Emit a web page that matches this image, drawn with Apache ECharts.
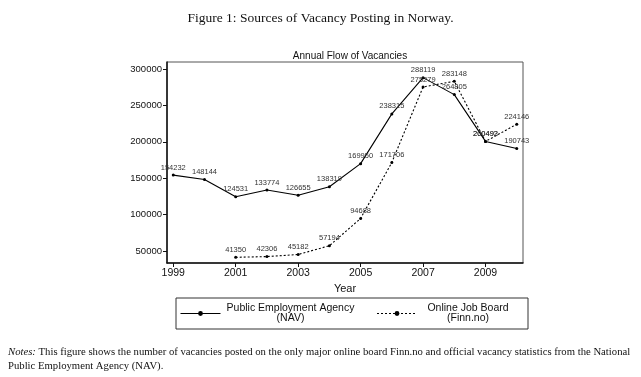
<!DOCTYPE html>
<html>
<head>
<meta charset="utf-8">
<script src="https://cdn.jsdelivr.net/npm/echarts@6/dist/echarts.min.js"></script>
<style>
html, body { margin: 0; padding: 0; background: #fff; }
#chart { width: 641px; height: 377px; }
</style>
</head>
<body>
<div id="chart"></div>
<script>
// data
var navYears = [1999, 2000, 2001, 2002, 2003, 2004, 2005, 2006, 2007, 2008, 2009, 2010];
var navValues = [154232, 148144, 124531, 133774, 126655, 138319, 169950, 238315, 288119, 264805, 200493, 190743];
var finnYears = [2001, 2002, 2003, 2004, 2005, 2006, 2007, 2008, 2009, 2010];
var finnValues = [41350, 42306, 45182, 57194, 94688, 171706, 275279, 283148, 200492, 224146];
var xTicks = [1999, 2001, 2003, 2005, 2007, 2009];
var yTicks = [50000, 100000, 150000, 200000, 250000, 300000];

function pairs(xs, ys) {
	var out = [];
	for (var i = 0; i < xs.length; i++) out.push([xs[i], ys[i]]);
	return out;
}

var chart = echarts.init(document.getElementById('chart'));

var labelStyle = {
	show : true,
	position : 'top',
	distance : 2,
	fontSize : 7.5,
	fontFamily : 'Liberation Sans',
	color : '#333',
	formatter : function(p) { return p.value[1]; }
};

var navName = 'Public Employment Agency\n(NAV)';
var finnName = 'Online Job Board\n(Finn.no)';

chart.setOption({
	backgroundColor : '#fff',
	animation : false,
	textStyle : { fontFamily : 'Liberation Sans' },
	title : [{
		text : 'Figure 1: Sources of Vacancy Posting in Norway.',
		left : 'center',
		top : 6,
		textStyle : { fontFamily : 'Liberation Serif', fontSize : 13.5, fontWeight : 'normal', color : '#111' }
	}, {
		text : 'Annual Flow of Vacancies',
		left : 345,
		textAlign : 'center',
		top : 46,
		textStyle : { fontFamily : 'Liberation Sans', fontSize : 10, fontWeight : 'normal', color : '#111' }
	}],
	grid : {
		left : 167,
		right : 118,
		top : 62,
		bottom : 114,
		show : true,
		borderColor : '#555',
		borderWidth : 1
	},
	legend : {
		left : 176,
		top : 298,
		width : 500,
		padding : [5, 14, 5, 4],
		borderColor : '#333',
		borderWidth : 1,
		itemGap : 21,
		itemWidth : 40,
		itemHeight : 6,
		lineStyle : { width : 1 },
		formatter : function(name) {
			var parts = name.split('\n');
			var k = name == navName ? 'a' : 'b';
			return '{' + k + '|' + parts[0] + '}\n{' + k + '|' + parts[1] + '}';
		},
		textStyle : {
			fontSize : 10.5,
			color : '#111',
			rich : {
				a : { width : 130, align : 'center', fontSize : 10.5, lineHeight : 10 },
				b : { width : 92, align : 'center', fontSize : 10.5, lineHeight : 10 }
			}
		},
		data : [navName, finnName]
	},
	xAxis : {
		type : 'value',
		min : 1998.8,
		max : 2010.2,
		name : 'Year',
		nameLocation : 'middle',
		nameGap : 20,
		nameTextStyle : { fontSize : 11, color : '#111' },
		splitLine : { show : false },
		axisLine : { lineStyle : { color : '#111', width : 1.5 } },
		axisTick : { customValues : xTicks, length : 4, lineStyle : { color : '#111' } },
		axisLabel : { customValues : xTicks, fontSize : 10.5, color : '#111', margin : 5, formatter : function(v) { return String(v); } }
	},
	yAxis : {
		type : 'value',
		min : 33500,
		max : 309600,
		splitLine : { show : false },
		axisLine : { show : true, lineStyle : { color : '#111', width : 1.5 } },
		axisTick : { show : true, customValues : yTicks, length : 4, lineStyle : { color : '#111' } },
		axisLabel : { customValues : yTicks, fontSize : 9.5, color : '#111', margin : 5, formatter : function(v) { return String(v); } }
	},
	series : [{
		name : navName,
		type : 'line',
		data : pairs(navYears, navValues),
		symbol : 'circle',
		symbolSize : 3,
		itemStyle : { color : '#000' },
		lineStyle : { color : '#000', width : 1.1 },
		label : labelStyle
	}, {
		name : finnName,
		type : 'line',
		data : pairs(finnYears, finnValues),
		symbol : 'circle',
		symbolSize : 3,
		itemStyle : { color : '#000' },
		lineStyle : { color : '#000', width : 1.1, type : [2, 2] },
		label : labelStyle
	}],
	graphic : [{
		type : 'text',
		left : 8,
		top : 345,
		style : {
			text : '{i|Notes:} This figure shows the number of vacancies posted on the only major online board Finn.no and official vacancy statistics from the National\nPublic Employment Agency (NAV).',
			font : '10.7px "Liberation Serif"',
			fill : '#111',
			lineHeight : 14,
			rich : { i : { fontStyle : 'italic', fontFamily : 'Liberation Serif', fontSize : 10.7 } }
		}
	}]
});
</script>
</body>
</html>
